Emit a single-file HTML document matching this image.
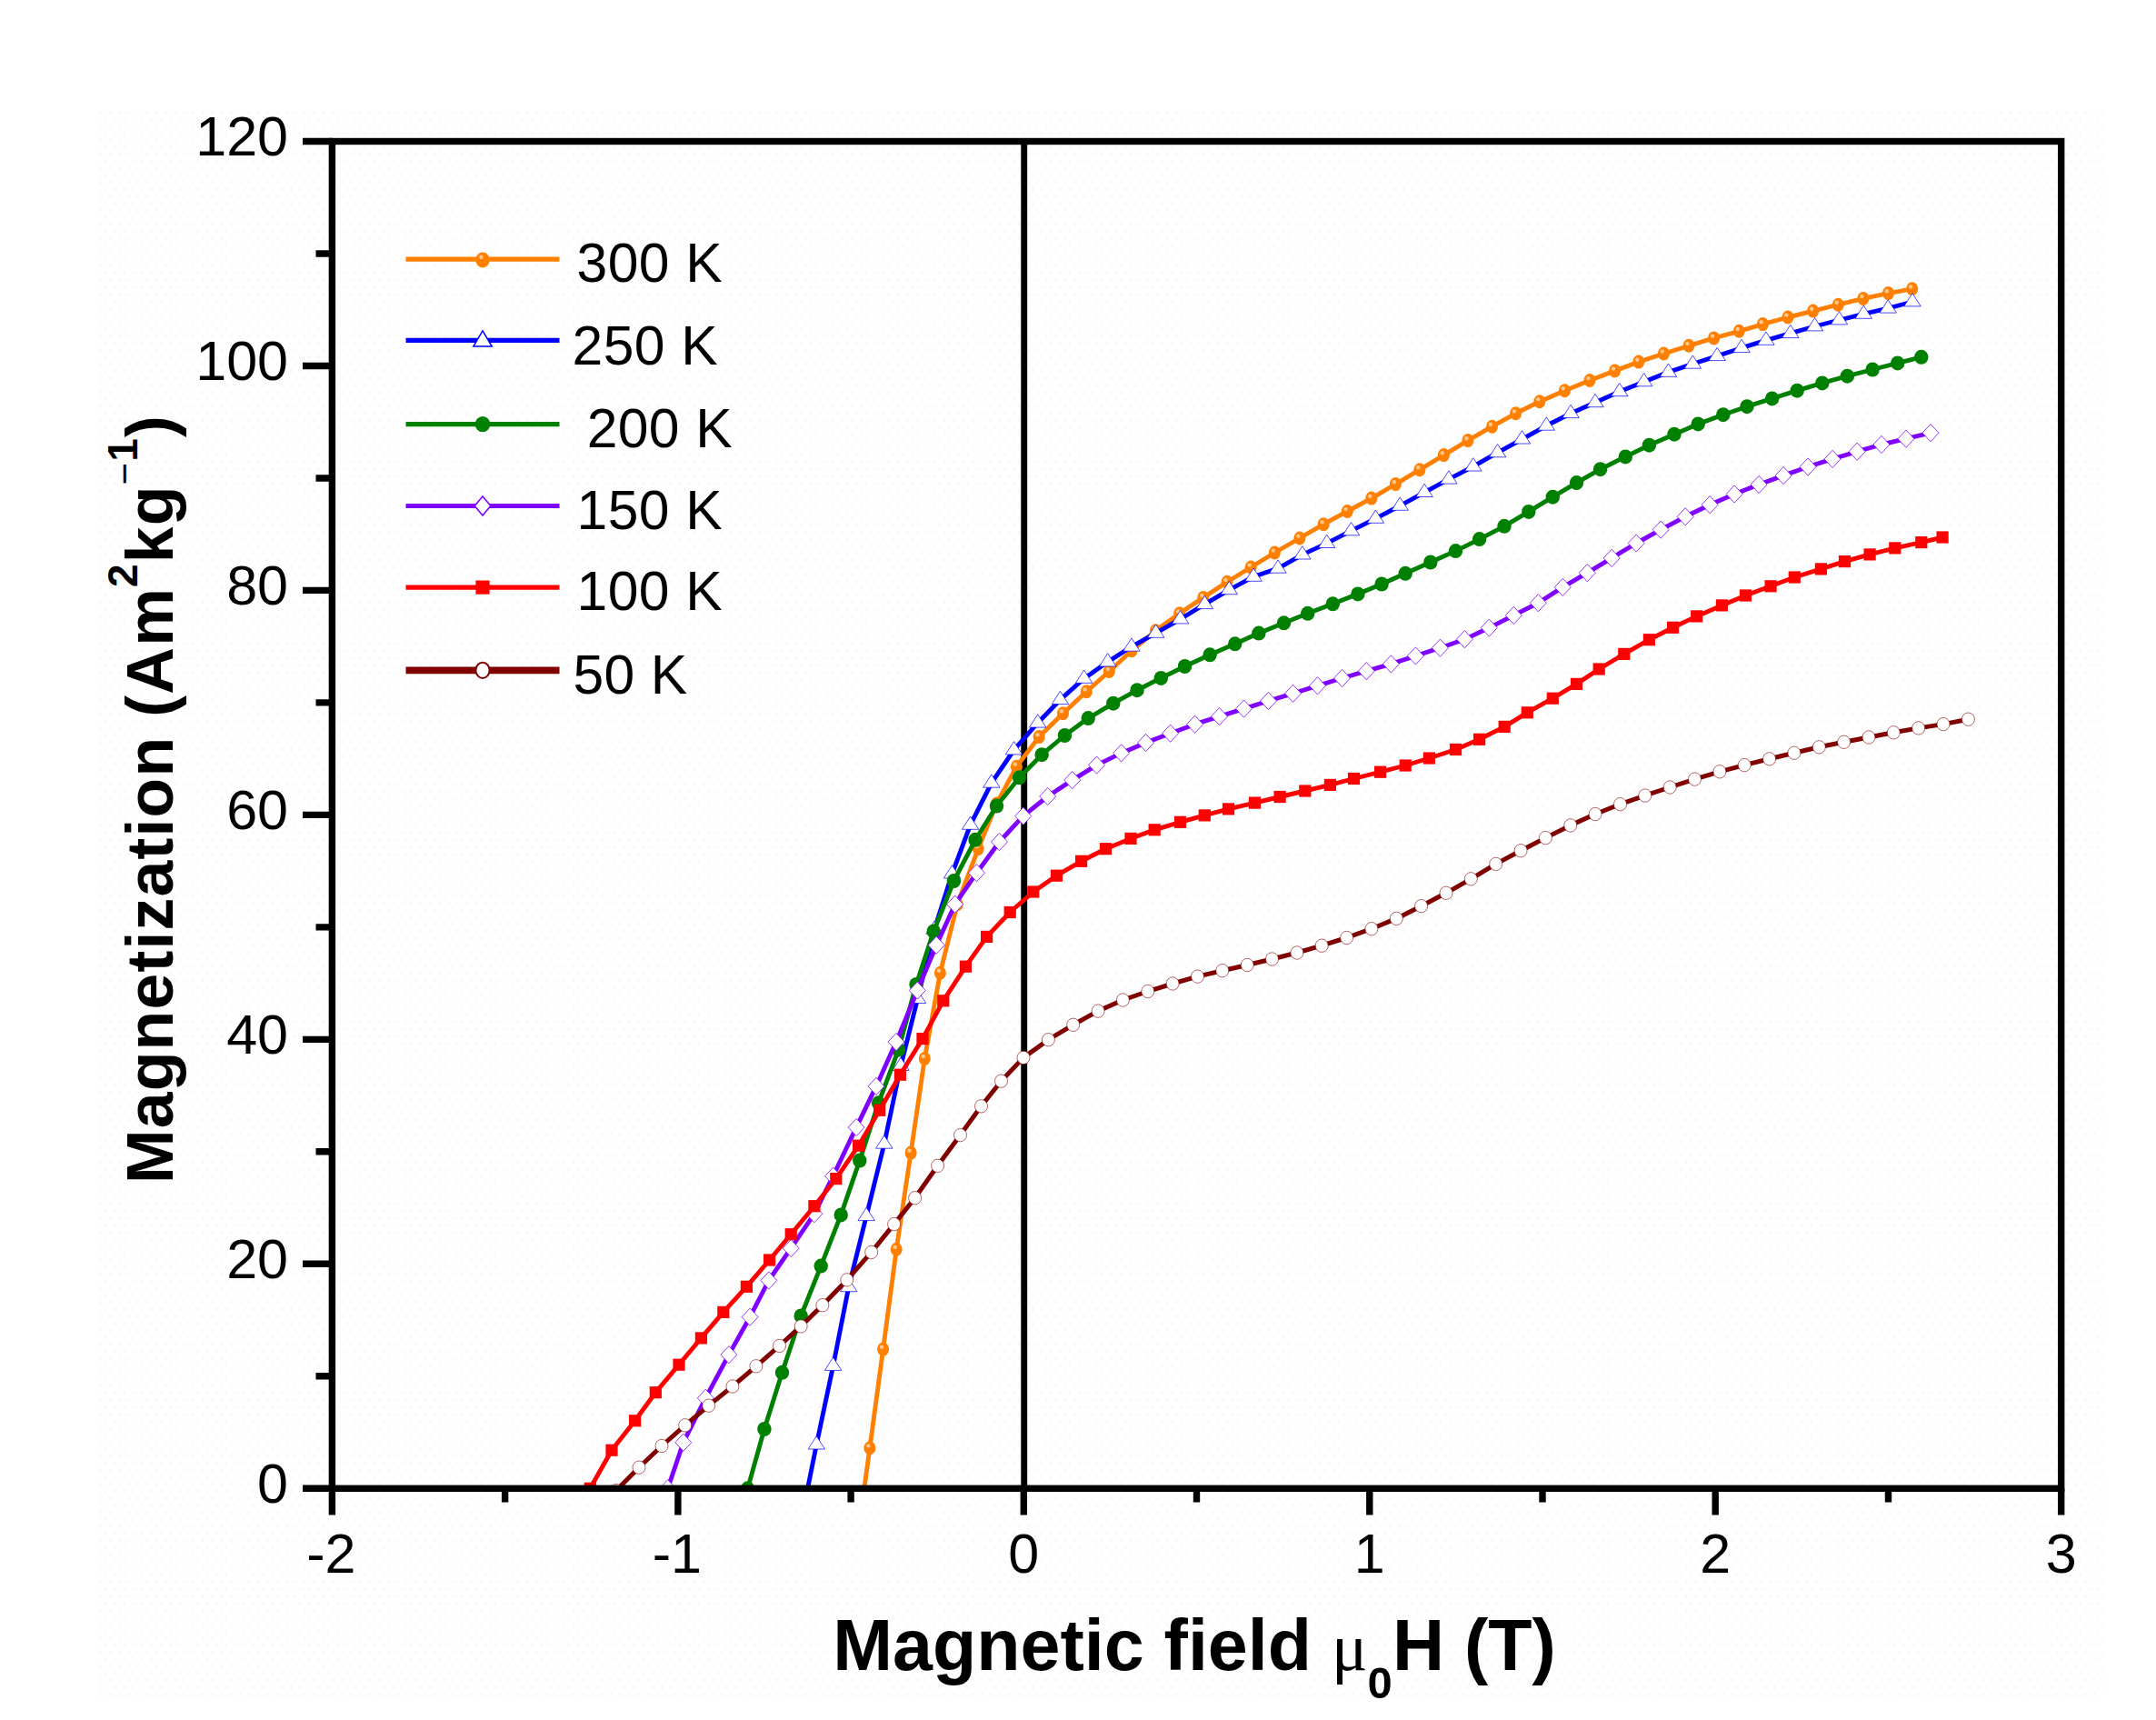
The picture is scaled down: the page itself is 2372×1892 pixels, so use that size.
<!DOCTYPE html>
<html lang="en"><head><meta charset="utf-8"><title>Magnetization vs magnetic field</title>
<style>html,body{margin:0;padding:0;background:#fff}body{width:2372px;height:1892px;overflow:hidden}svg{display:block}</style>
</head><body>
<svg width="2372" height="1892" viewBox="0 0 2372 1892">
<rect x="0" y="0" width="2372" height="1892" fill="#ffffff"/>
<defs><pattern id="dots" x="108" y="120" width="10.2" height="15.4" patternUnits="userSpaceOnUse"><circle cx="3" cy="3.5" r="1.3" fill="#faf4f4"/><circle cx="8.1" cy="11.2" r="1.3" fill="#faf4f4"/></pattern></defs>
<rect x="108" y="120" width="2206" height="1749" fill="#fefefe"/>
<rect x="108" y="120" width="2206" height="1749" fill="url(#dots)"/>
<line x1="1126.7" y1="155.5" x2="1126.7" y2="1637.3" stroke="#000" stroke-width="6.9"/>
<defs><clipPath id="cp"><rect x="365.4" y="155.5" width="1902.3" height="1481.8"/></clipPath></defs>
<g clip-path="url(#cp)">
<g>
<path d="M942.2 1700 L956.9 1592.8 L971.6 1484.1 L986.2 1374.3 L1002.1 1268.1 L1017.3 1164.4 L1034.4 1070.2 L1053.2 994.7 L1076.2 933.6 L1096.5 884 L1118.4 843.2 L1143.2 810.6 L1169.5 784.7 L1195.3 760.8 L1220.4 738.5 L1245 715.8 L1271.5 693.8 L1297.7 674.8 L1323.8 657.4 L1350 640.3 L1376.2 624 L1402.3 608 L1429.9 592 L1456.1 576.7 L1482.3 562.5 L1508.8 548.1 L1535.4 532.6 L1561.9 516.7 L1588.4 500.6 L1615 484.6 L1641.5 469.2 L1667.6 454.8 L1693.8 441.7 L1721.4 429.7 L1749 418.5 L1776.6 407.9 L1802.8 398.1 L1830.4 389 L1858 380.3 L1885.6 371.9 L1913.3 364.3 L1939.4 356.6 L1967 349 L1994.7 342.1 L2022.3 335.2 L2049.9 328.4 L2077.5 322.6 L2103.7 317.8" fill="none" stroke="#ff8000" stroke-width="4.9" stroke-linejoin="round"/>
<ellipse cx="956.9" cy="1592.8" rx="6.5" ry="7.5" fill="#ff8000"/><circle cx="955.3" cy="1590.4" r="2.2" fill="#ffc890"/>
<ellipse cx="971.6" cy="1484.1" rx="6.5" ry="7.5" fill="#ff8000"/><circle cx="970" cy="1481.7" r="2.2" fill="#ffc890"/>
<ellipse cx="986.2" cy="1374.3" rx="6.5" ry="7.5" fill="#ff8000"/><circle cx="984.6" cy="1371.9" r="2.2" fill="#ffc890"/>
<ellipse cx="1002.1" cy="1268.1" rx="6.5" ry="7.5" fill="#ff8000"/><circle cx="1000.5" cy="1265.7" r="2.2" fill="#ffc890"/>
<ellipse cx="1017.3" cy="1164.4" rx="6.5" ry="7.5" fill="#ff8000"/><circle cx="1015.7" cy="1162" r="2.2" fill="#ffc890"/>
<ellipse cx="1034.4" cy="1070.2" rx="6.5" ry="7.5" fill="#ff8000"/><circle cx="1032.8" cy="1067.8" r="2.2" fill="#ffc890"/>
<ellipse cx="1053.2" cy="994.7" rx="6.5" ry="7.5" fill="#ff8000"/><circle cx="1051.6" cy="992.3" r="2.2" fill="#ffc890"/>
<ellipse cx="1076.2" cy="933.6" rx="6.5" ry="7.5" fill="#ff8000"/><circle cx="1074.6" cy="931.2" r="2.2" fill="#ffc890"/>
<ellipse cx="1096.5" cy="884" rx="6.5" ry="7.5" fill="#ff8000"/><circle cx="1094.9" cy="881.6" r="2.2" fill="#ffc890"/>
<ellipse cx="1118.4" cy="843.2" rx="6.5" ry="7.5" fill="#ff8000"/><circle cx="1116.8" cy="840.8" r="2.2" fill="#ffc890"/>
<ellipse cx="1143.2" cy="810.6" rx="6.5" ry="7.5" fill="#ff8000"/><circle cx="1141.6" cy="808.2" r="2.2" fill="#ffc890"/>
<ellipse cx="1169.5" cy="784.7" rx="6.5" ry="7.5" fill="#ff8000"/><circle cx="1167.9" cy="782.3" r="2.2" fill="#ffc890"/>
<ellipse cx="1195.3" cy="760.8" rx="6.5" ry="7.5" fill="#ff8000"/><circle cx="1193.7" cy="758.4" r="2.2" fill="#ffc890"/>
<ellipse cx="1220.4" cy="738.5" rx="6.5" ry="7.5" fill="#ff8000"/><circle cx="1218.8" cy="736.1" r="2.2" fill="#ffc890"/>
<ellipse cx="1245" cy="715.8" rx="6.5" ry="7.5" fill="#ff8000"/><circle cx="1243.4" cy="713.4" r="2.2" fill="#ffc890"/>
<ellipse cx="1271.5" cy="693.8" rx="6.5" ry="7.5" fill="#ff8000"/><circle cx="1269.9" cy="691.4" r="2.2" fill="#ffc890"/>
<ellipse cx="1297.7" cy="674.8" rx="6.5" ry="7.5" fill="#ff8000"/><circle cx="1296.1" cy="672.4" r="2.2" fill="#ffc890"/>
<ellipse cx="1323.8" cy="657.4" rx="6.5" ry="7.5" fill="#ff8000"/><circle cx="1322.2" cy="655" r="2.2" fill="#ffc890"/>
<ellipse cx="1350" cy="640.3" rx="6.5" ry="7.5" fill="#ff8000"/><circle cx="1348.4" cy="637.9" r="2.2" fill="#ffc890"/>
<ellipse cx="1376.2" cy="624" rx="6.5" ry="7.5" fill="#ff8000"/><circle cx="1374.6" cy="621.6" r="2.2" fill="#ffc890"/>
<ellipse cx="1402.3" cy="608" rx="6.5" ry="7.5" fill="#ff8000"/><circle cx="1400.7" cy="605.6" r="2.2" fill="#ffc890"/>
<ellipse cx="1429.9" cy="592" rx="6.5" ry="7.5" fill="#ff8000"/><circle cx="1428.3" cy="589.6" r="2.2" fill="#ffc890"/>
<ellipse cx="1456.1" cy="576.7" rx="6.5" ry="7.5" fill="#ff8000"/><circle cx="1454.5" cy="574.3" r="2.2" fill="#ffc890"/>
<ellipse cx="1482.3" cy="562.5" rx="6.5" ry="7.5" fill="#ff8000"/><circle cx="1480.7" cy="560.1" r="2.2" fill="#ffc890"/>
<ellipse cx="1508.8" cy="548.1" rx="6.5" ry="7.5" fill="#ff8000"/><circle cx="1507.2" cy="545.7" r="2.2" fill="#ffc890"/>
<ellipse cx="1535.4" cy="532.6" rx="6.5" ry="7.5" fill="#ff8000"/><circle cx="1533.8" cy="530.2" r="2.2" fill="#ffc890"/>
<ellipse cx="1561.9" cy="516.7" rx="6.5" ry="7.5" fill="#ff8000"/><circle cx="1560.3" cy="514.3" r="2.2" fill="#ffc890"/>
<ellipse cx="1588.4" cy="500.6" rx="6.5" ry="7.5" fill="#ff8000"/><circle cx="1586.8" cy="498.2" r="2.2" fill="#ffc890"/>
<ellipse cx="1615" cy="484.6" rx="6.5" ry="7.5" fill="#ff8000"/><circle cx="1613.4" cy="482.2" r="2.2" fill="#ffc890"/>
<ellipse cx="1641.5" cy="469.2" rx="6.5" ry="7.5" fill="#ff8000"/><circle cx="1639.9" cy="466.8" r="2.2" fill="#ffc890"/>
<ellipse cx="1667.6" cy="454.8" rx="6.5" ry="7.5" fill="#ff8000"/><circle cx="1666" cy="452.4" r="2.2" fill="#ffc890"/>
<ellipse cx="1693.8" cy="441.7" rx="6.5" ry="7.5" fill="#ff8000"/><circle cx="1692.2" cy="439.3" r="2.2" fill="#ffc890"/>
<ellipse cx="1721.4" cy="429.7" rx="6.5" ry="7.5" fill="#ff8000"/><circle cx="1719.8" cy="427.3" r="2.2" fill="#ffc890"/>
<ellipse cx="1749" cy="418.5" rx="6.5" ry="7.5" fill="#ff8000"/><circle cx="1747.4" cy="416.1" r="2.2" fill="#ffc890"/>
<ellipse cx="1776.6" cy="407.9" rx="6.5" ry="7.5" fill="#ff8000"/><circle cx="1775" cy="405.5" r="2.2" fill="#ffc890"/>
<ellipse cx="1802.8" cy="398.1" rx="6.5" ry="7.5" fill="#ff8000"/><circle cx="1801.2" cy="395.7" r="2.2" fill="#ffc890"/>
<ellipse cx="1830.4" cy="389" rx="6.5" ry="7.5" fill="#ff8000"/><circle cx="1828.8" cy="386.6" r="2.2" fill="#ffc890"/>
<ellipse cx="1858" cy="380.3" rx="6.5" ry="7.5" fill="#ff8000"/><circle cx="1856.4" cy="377.9" r="2.2" fill="#ffc890"/>
<ellipse cx="1885.6" cy="371.9" rx="6.5" ry="7.5" fill="#ff8000"/><circle cx="1884" cy="369.6" r="2.2" fill="#ffc890"/>
<ellipse cx="1913.3" cy="364.3" rx="6.5" ry="7.5" fill="#ff8000"/><circle cx="1911.7" cy="361.9" r="2.2" fill="#ffc890"/>
<ellipse cx="1939.4" cy="356.6" rx="6.5" ry="7.5" fill="#ff8000"/><circle cx="1937.8" cy="354.2" r="2.2" fill="#ffc890"/>
<ellipse cx="1967" cy="349" rx="6.5" ry="7.5" fill="#ff8000"/><circle cx="1965.4" cy="346.6" r="2.2" fill="#ffc890"/>
<ellipse cx="1994.7" cy="342.1" rx="6.5" ry="7.5" fill="#ff8000"/><circle cx="1993.1" cy="339.7" r="2.2" fill="#ffc890"/>
<ellipse cx="2022.3" cy="335.2" rx="6.5" ry="7.5" fill="#ff8000"/><circle cx="2020.7" cy="332.8" r="2.2" fill="#ffc890"/>
<ellipse cx="2049.9" cy="328.4" rx="6.5" ry="7.5" fill="#ff8000"/><circle cx="2048.3" cy="326" r="2.2" fill="#ffc890"/>
<ellipse cx="2077.5" cy="322.6" rx="6.5" ry="7.5" fill="#ff8000"/><circle cx="2075.9" cy="320.2" r="2.2" fill="#ffc890"/>
<ellipse cx="2103.7" cy="317.8" rx="6.5" ry="7.5" fill="#ff8000"/><circle cx="2102.1" cy="315.4" r="2.2" fill="#ffc890"/>
</g>
<g>
<path d="M888.6 1637.3 L898.3 1589.1 L916.6 1502.5 L933.7 1415.8 L953.2 1337.7 L972.8 1258.3 L991 1172.6 L1009.5 1098.6 L1028 1022.4 L1047.5 961.1 L1067.6 907.4 L1090.8 861.3 L1115.5 825 L1141.7 795.2 L1166.4 769.7 L1192.6 746.4 L1218.7 728.1 L1244.9 711.3 L1271.7 696.4 L1298.6 681 L1325.4 664.7 L1352.3 648.8 L1379.1 634.4 L1406 625.3 L1432.8 610.1 L1459.7 597.6 L1486.5 583.9 L1513.4 570.4 L1540.2 556.4 L1567.1 541.6 L1593.9 527.2 L1620.8 513.1 L1647.6 497.9 L1674.5 483.1 L1701.3 468.3 L1728.1 454.7 L1755 442.8 L1781.8 430.8 L1808.7 419.9 L1835.5 409.4 L1862.4 400.3 L1889.2 391.7 L1916.1 382.7 L1942.9 374.4 L1969.8 366.7 L1996.6 359 L2023.5 352 L2050.3 345.4 L2077.2 339.2 L2104 332" fill="none" stroke="#0000ff" stroke-width="4.9" stroke-linejoin="round"/>
<path d="M898.3 1579.7 L907.5 1594 L889.1 1594 Z" fill="#fff" stroke="#0000ff" stroke-width="0.7"/>
<path d="M916.6 1493.1 L925.8 1507.4 L907.4 1507.4 Z" fill="#fff" stroke="#0000ff" stroke-width="0.7"/>
<path d="M933.7 1406.4 L942.9 1420.7 L924.5 1420.7 Z" fill="#fff" stroke="#0000ff" stroke-width="0.7"/>
<path d="M953.2 1328.3 L962.4 1342.6 L944 1342.6 Z" fill="#fff" stroke="#0000ff" stroke-width="0.7"/>
<path d="M972.8 1248.9 L982 1263.2 L963.6 1263.2 Z" fill="#fff" stroke="#0000ff" stroke-width="0.7"/>
<path d="M991 1163.2 L1000.2 1177.5 L981.8 1177.5 Z" fill="#fff" stroke="#0000ff" stroke-width="0.7"/>
<path d="M1009.5 1089.2 L1018.7 1103.5 L1000.3 1103.5 Z" fill="#fff" stroke="#0000ff" stroke-width="0.7"/>
<path d="M1028 1013 L1037.2 1027.3 L1018.8 1027.3 Z" fill="#fff" stroke="#0000ff" stroke-width="0.7"/>
<path d="M1047.5 951.7 L1056.7 966 L1038.3 966 Z" fill="#fff" stroke="#0000ff" stroke-width="0.7"/>
<path d="M1067.6 898 L1076.8 912.3 L1058.4 912.3 Z" fill="#fff" stroke="#0000ff" stroke-width="0.7"/>
<path d="M1090.8 851.9 L1100 866.2 L1081.6 866.2 Z" fill="#fff" stroke="#0000ff" stroke-width="0.7"/>
<path d="M1115.5 815.6 L1124.7 829.9 L1106.3 829.9 Z" fill="#fff" stroke="#0000ff" stroke-width="0.7"/>
<path d="M1141.7 785.8 L1150.9 800.1 L1132.5 800.1 Z" fill="#fff" stroke="#0000ff" stroke-width="0.7"/>
<path d="M1166.4 760.3 L1175.6 774.6 L1157.2 774.6 Z" fill="#fff" stroke="#0000ff" stroke-width="0.7"/>
<path d="M1192.6 737 L1201.8 751.3 L1183.4 751.3 Z" fill="#fff" stroke="#0000ff" stroke-width="0.7"/>
<path d="M1218.7 718.7 L1227.9 733 L1209.5 733 Z" fill="#fff" stroke="#0000ff" stroke-width="0.7"/>
<path d="M1244.9 701.9 L1254.1 716.2 L1235.7 716.2 Z" fill="#fff" stroke="#0000ff" stroke-width="0.7"/>
<path d="M1271.7 687 L1280.9 701.3 L1262.5 701.3 Z" fill="#fff" stroke="#0000ff" stroke-width="0.7"/>
<path d="M1298.6 671.6 L1307.8 685.9 L1289.4 685.9 Z" fill="#fff" stroke="#0000ff" stroke-width="0.7"/>
<path d="M1325.4 655.3 L1334.6 669.6 L1316.2 669.6 Z" fill="#fff" stroke="#0000ff" stroke-width="0.7"/>
<path d="M1352.3 639.4 L1361.5 653.7 L1343.1 653.7 Z" fill="#fff" stroke="#0000ff" stroke-width="0.7"/>
<path d="M1379.1 625 L1388.3 639.3 L1369.9 639.3 Z" fill="#fff" stroke="#0000ff" stroke-width="0.7"/>
<path d="M1406 615.9 L1415.2 630.2 L1396.8 630.2 Z" fill="#fff" stroke="#0000ff" stroke-width="0.7"/>
<path d="M1432.8 600.7 L1442 615 L1423.6 615 Z" fill="#fff" stroke="#0000ff" stroke-width="0.7"/>
<path d="M1459.7 588.2 L1468.9 602.5 L1450.5 602.5 Z" fill="#fff" stroke="#0000ff" stroke-width="0.7"/>
<path d="M1486.5 574.5 L1495.7 588.8 L1477.3 588.8 Z" fill="#fff" stroke="#0000ff" stroke-width="0.7"/>
<path d="M1513.4 561 L1522.6 575.3 L1504.2 575.3 Z" fill="#fff" stroke="#0000ff" stroke-width="0.7"/>
<path d="M1540.2 547 L1549.4 561.3 L1531 561.3 Z" fill="#fff" stroke="#0000ff" stroke-width="0.7"/>
<path d="M1567.1 532.2 L1576.3 546.5 L1557.9 546.5 Z" fill="#fff" stroke="#0000ff" stroke-width="0.7"/>
<path d="M1593.9 517.8 L1603.1 532.1 L1584.7 532.1 Z" fill="#fff" stroke="#0000ff" stroke-width="0.7"/>
<path d="M1620.8 503.7 L1630 518 L1611.6 518 Z" fill="#fff" stroke="#0000ff" stroke-width="0.7"/>
<path d="M1647.6 488.5 L1656.8 502.8 L1638.4 502.8 Z" fill="#fff" stroke="#0000ff" stroke-width="0.7"/>
<path d="M1674.5 473.7 L1683.7 488 L1665.2 488 Z" fill="#fff" stroke="#0000ff" stroke-width="0.7"/>
<path d="M1701.3 458.9 L1710.5 473.2 L1692.1 473.2 Z" fill="#fff" stroke="#0000ff" stroke-width="0.7"/>
<path d="M1728.1 445.3 L1737.3 459.6 L1718.9 459.6 Z" fill="#fff" stroke="#0000ff" stroke-width="0.7"/>
<path d="M1755 433.4 L1764.2 447.7 L1745.8 447.7 Z" fill="#fff" stroke="#0000ff" stroke-width="0.7"/>
<path d="M1781.8 421.4 L1791 435.7 L1772.6 435.7 Z" fill="#fff" stroke="#0000ff" stroke-width="0.7"/>
<path d="M1808.7 410.5 L1817.9 424.8 L1799.5 424.8 Z" fill="#fff" stroke="#0000ff" stroke-width="0.7"/>
<path d="M1835.5 400 L1844.7 414.3 L1826.3 414.3 Z" fill="#fff" stroke="#0000ff" stroke-width="0.7"/>
<path d="M1862.4 390.9 L1871.6 405.2 L1853.2 405.2 Z" fill="#fff" stroke="#0000ff" stroke-width="0.7"/>
<path d="M1889.2 382.3 L1898.4 396.6 L1880 396.6 Z" fill="#fff" stroke="#0000ff" stroke-width="0.7"/>
<path d="M1916.1 373.3 L1925.3 387.6 L1906.9 387.6 Z" fill="#fff" stroke="#0000ff" stroke-width="0.7"/>
<path d="M1942.9 365 L1952.1 379.3 L1933.7 379.3 Z" fill="#fff" stroke="#0000ff" stroke-width="0.7"/>
<path d="M1969.8 357.3 L1979 371.6 L1960.6 371.6 Z" fill="#fff" stroke="#0000ff" stroke-width="0.7"/>
<path d="M1996.6 349.6 L2005.8 363.9 L1987.4 363.9 Z" fill="#fff" stroke="#0000ff" stroke-width="0.7"/>
<path d="M2023.5 342.6 L2032.7 356.9 L2014.3 356.9 Z" fill="#fff" stroke="#0000ff" stroke-width="0.7"/>
<path d="M2050.3 336 L2059.5 350.3 L2041.1 350.3 Z" fill="#fff" stroke="#0000ff" stroke-width="0.7"/>
<path d="M2077.2 329.8 L2086.4 344.1 L2068 344.1 Z" fill="#fff" stroke="#0000ff" stroke-width="0.7"/>
<path d="M2104 322.6 L2113.2 336.9 L2094.8 336.9 Z" fill="#fff" stroke="#0000ff" stroke-width="0.7"/>
</g>
<g>
<path d="M822.6 1637.3 L840.9 1572 L860.5 1509.8 L881.2 1447.5 L903.2 1392.6 L925.2 1336.4 L945.8 1276.6 L966.5 1213.3 L988.5 1154.7 L1008 1083 L1027.2 1024.5 L1049.4 969 L1073 923.8 L1096.5 886.5 L1121.5 855.3 L1146.2 830.2 L1171.4 809 L1197.2 790.1 L1224.8 773.7 L1251 759.2 L1277.3 745.9 L1303.5 733 L1331.1 720.3 L1358.7 708.3 L1384.9 696.6 L1412.5 685.3 L1438.7 674.8 L1466.3 664.3 L1493.9 653.4 L1520.1 642.5 L1546.2 630.8 L1573.8 618.5 L1601.5 606.1 L1627.6 593.1 L1655 578.8 L1681.8 562.9 L1708.3 546.7 L1734.5 531.1 L1760.6 516.2 L1788.3 502.4 L1814.4 489.7 L1842 477.7 L1868.2 466.4 L1895.8 456.2 L1922 447.2 L1949.6 438.4 L1977.2 429.7 L2004.8 421.4 L2032.4 413.7 L2060.1 406.5 L2087.7 399.4 L2113.8 392.8" fill="none" stroke="#008000" stroke-width="4.9" stroke-linejoin="round"/>
<ellipse cx="822.6" cy="1637.3" rx="7.7" ry="8.0" fill="#008000"/>
<ellipse cx="840.9" cy="1572" rx="7.7" ry="8.0" fill="#008000"/>
<ellipse cx="860.5" cy="1509.8" rx="7.7" ry="8.0" fill="#008000"/>
<ellipse cx="881.2" cy="1447.5" rx="7.7" ry="8.0" fill="#008000"/>
<ellipse cx="903.2" cy="1392.6" rx="7.7" ry="8.0" fill="#008000"/>
<ellipse cx="925.2" cy="1336.4" rx="7.7" ry="8.0" fill="#008000"/>
<ellipse cx="945.8" cy="1276.6" rx="7.7" ry="8.0" fill="#008000"/>
<ellipse cx="966.5" cy="1213.3" rx="7.7" ry="8.0" fill="#008000"/>
<ellipse cx="988.5" cy="1154.7" rx="7.7" ry="8.0" fill="#008000"/>
<ellipse cx="1008" cy="1083" rx="7.7" ry="8.0" fill="#008000"/>
<ellipse cx="1027.2" cy="1024.5" rx="7.7" ry="8.0" fill="#008000"/>
<ellipse cx="1049.4" cy="969" rx="7.7" ry="8.0" fill="#008000"/>
<ellipse cx="1073" cy="923.8" rx="7.7" ry="8.0" fill="#008000"/>
<ellipse cx="1096.5" cy="886.5" rx="7.7" ry="8.0" fill="#008000"/>
<ellipse cx="1121.5" cy="855.3" rx="7.7" ry="8.0" fill="#008000"/>
<ellipse cx="1146.2" cy="830.2" rx="7.7" ry="8.0" fill="#008000"/>
<ellipse cx="1171.4" cy="809" rx="7.7" ry="8.0" fill="#008000"/>
<ellipse cx="1197.2" cy="790.1" rx="7.7" ry="8.0" fill="#008000"/>
<ellipse cx="1224.8" cy="773.7" rx="7.7" ry="8.0" fill="#008000"/>
<ellipse cx="1251" cy="759.2" rx="7.7" ry="8.0" fill="#008000"/>
<ellipse cx="1277.3" cy="745.9" rx="7.7" ry="8.0" fill="#008000"/>
<ellipse cx="1303.5" cy="733" rx="7.7" ry="8.0" fill="#008000"/>
<ellipse cx="1331.1" cy="720.3" rx="7.7" ry="8.0" fill="#008000"/>
<ellipse cx="1358.7" cy="708.3" rx="7.7" ry="8.0" fill="#008000"/>
<ellipse cx="1384.9" cy="696.6" rx="7.7" ry="8.0" fill="#008000"/>
<ellipse cx="1412.5" cy="685.3" rx="7.7" ry="8.0" fill="#008000"/>
<ellipse cx="1438.7" cy="674.8" rx="7.7" ry="8.0" fill="#008000"/>
<ellipse cx="1466.3" cy="664.3" rx="7.7" ry="8.0" fill="#008000"/>
<ellipse cx="1493.9" cy="653.4" rx="7.7" ry="8.0" fill="#008000"/>
<ellipse cx="1520.1" cy="642.5" rx="7.7" ry="8.0" fill="#008000"/>
<ellipse cx="1546.2" cy="630.8" rx="7.7" ry="8.0" fill="#008000"/>
<ellipse cx="1573.8" cy="618.5" rx="7.7" ry="8.0" fill="#008000"/>
<ellipse cx="1601.5" cy="606.1" rx="7.7" ry="8.0" fill="#008000"/>
<ellipse cx="1627.6" cy="593.1" rx="7.7" ry="8.0" fill="#008000"/>
<ellipse cx="1655" cy="578.8" rx="7.7" ry="8.0" fill="#008000"/>
<ellipse cx="1681.8" cy="562.9" rx="7.7" ry="8.0" fill="#008000"/>
<ellipse cx="1708.3" cy="546.7" rx="7.7" ry="8.0" fill="#008000"/>
<ellipse cx="1734.5" cy="531.1" rx="7.7" ry="8.0" fill="#008000"/>
<ellipse cx="1760.6" cy="516.2" rx="7.7" ry="8.0" fill="#008000"/>
<ellipse cx="1788.3" cy="502.4" rx="7.7" ry="8.0" fill="#008000"/>
<ellipse cx="1814.4" cy="489.7" rx="7.7" ry="8.0" fill="#008000"/>
<ellipse cx="1842" cy="477.7" rx="7.7" ry="8.0" fill="#008000"/>
<ellipse cx="1868.2" cy="466.4" rx="7.7" ry="8.0" fill="#008000"/>
<ellipse cx="1895.8" cy="456.2" rx="7.7" ry="8.0" fill="#008000"/>
<ellipse cx="1922" cy="447.2" rx="7.7" ry="8.0" fill="#008000"/>
<ellipse cx="1949.6" cy="438.4" rx="7.7" ry="8.0" fill="#008000"/>
<ellipse cx="1977.2" cy="429.7" rx="7.7" ry="8.0" fill="#008000"/>
<ellipse cx="2004.8" cy="421.4" rx="7.7" ry="8.0" fill="#008000"/>
<ellipse cx="2032.4" cy="413.7" rx="7.7" ry="8.0" fill="#008000"/>
<ellipse cx="2060.1" cy="406.5" rx="7.7" ry="8.0" fill="#008000"/>
<ellipse cx="2087.7" cy="399.4" rx="7.7" ry="8.0" fill="#008000"/>
<ellipse cx="2113.8" cy="392.8" rx="7.7" ry="8.0" fill="#008000"/>
</g>
<g>
<path d="M734.7 1637.3 L751.8 1586.7 L776.3 1537.8 L801.9 1490.2 L825.1 1448.7 L845.8 1408.5 L870.2 1373.1 L895.9 1335.2 L916.6 1293.7 L942.1 1240.1 L964 1194.9 L986 1146.1 L1009.3 1089.5 L1030.2 1039.7 L1050.7 994.7 L1074.5 960.2 L1099.5 926 L1125.7 897.7 L1152.7 876 L1179.7 858.1 L1206.6 841.6 L1233.6 828.4 L1260.6 817 L1287.6 806.7 L1314.6 796.7 L1341.5 788.1 L1368.5 779.6 L1395.5 771 L1422.5 762.8 L1449.5 754.3 L1476.5 746 L1503.4 738.2 L1530.4 730.4 L1557.4 721.5 L1584.4 712.7 L1611.4 703.2 L1638.3 690.6 L1665.3 676.9 L1692.3 663.2 L1719.3 645.9 L1746.3 630.2 L1773.2 613.9 L1800.2 597.5 L1827.2 582.6 L1854.2 568.3 L1881.2 555.2 L1908.2 543.5 L1935.1 533 L1962.1 523.1 L1989.1 513.5 L2016.1 504.9 L2043.1 496.7 L2070 489 L2097 482.7 L2124 476.2" fill="none" stroke="#8000ff" stroke-width="4.9" stroke-linejoin="round"/>
<path d="M734.7 1627.7 L743.7 1637.3 L734.7 1646.9 L725.7 1637.3 Z" fill="#fff" stroke="#8000ff" stroke-width="0.8"/>
<path d="M751.8 1577.1 L760.8 1586.7 L751.8 1596.3 L742.8 1586.7 Z" fill="#fff" stroke="#8000ff" stroke-width="0.8"/>
<path d="M776.3 1528.2 L785.3 1537.8 L776.3 1547.4 L767.3 1537.8 Z" fill="#fff" stroke="#8000ff" stroke-width="0.8"/>
<path d="M801.9 1480.6 L810.9 1490.2 L801.9 1499.8 L792.9 1490.2 Z" fill="#fff" stroke="#8000ff" stroke-width="0.8"/>
<path d="M825.1 1439.1 L834.1 1448.7 L825.1 1458.3 L816.1 1448.7 Z" fill="#fff" stroke="#8000ff" stroke-width="0.8"/>
<path d="M845.8 1398.9 L854.8 1408.5 L845.8 1418.1 L836.8 1408.5 Z" fill="#fff" stroke="#8000ff" stroke-width="0.8"/>
<path d="M870.2 1363.5 L879.2 1373.1 L870.2 1382.7 L861.2 1373.1 Z" fill="#fff" stroke="#8000ff" stroke-width="0.8"/>
<path d="M895.9 1325.6 L904.9 1335.2 L895.9 1344.8 L886.9 1335.2 Z" fill="#fff" stroke="#8000ff" stroke-width="0.8"/>
<path d="M916.6 1284.1 L925.6 1293.7 L916.6 1303.3 L907.6 1293.7 Z" fill="#fff" stroke="#8000ff" stroke-width="0.8"/>
<path d="M942.1 1230.5 L951.1 1240.1 L942.1 1249.7 L933.1 1240.1 Z" fill="#fff" stroke="#8000ff" stroke-width="0.8"/>
<path d="M964 1185.3 L973 1194.9 L964 1204.5 L955 1194.9 Z" fill="#fff" stroke="#8000ff" stroke-width="0.8"/>
<path d="M986 1136.5 L995 1146.1 L986 1155.7 L977 1146.1 Z" fill="#fff" stroke="#8000ff" stroke-width="0.8"/>
<path d="M1009.3 1079.9 L1018.3 1089.5 L1009.3 1099.1 L1000.3 1089.5 Z" fill="#fff" stroke="#8000ff" stroke-width="0.8"/>
<path d="M1030.2 1030.1 L1039.2 1039.7 L1030.2 1049.3 L1021.2 1039.7 Z" fill="#fff" stroke="#8000ff" stroke-width="0.8"/>
<path d="M1050.7 985.1 L1059.7 994.7 L1050.7 1004.3 L1041.7 994.7 Z" fill="#fff" stroke="#8000ff" stroke-width="0.8"/>
<path d="M1074.5 950.6 L1083.5 960.2 L1074.5 969.8 L1065.5 960.2 Z" fill="#fff" stroke="#8000ff" stroke-width="0.8"/>
<path d="M1099.5 916.4 L1108.5 926 L1099.5 935.6 L1090.5 926 Z" fill="#fff" stroke="#8000ff" stroke-width="0.8"/>
<path d="M1125.7 888.1 L1134.7 897.7 L1125.7 907.3 L1116.7 897.7 Z" fill="#fff" stroke="#8000ff" stroke-width="0.8"/>
<path d="M1152.7 866.4 L1161.7 876 L1152.7 885.6 L1143.7 876 Z" fill="#fff" stroke="#8000ff" stroke-width="0.8"/>
<path d="M1179.7 848.5 L1188.7 858.1 L1179.7 867.7 L1170.7 858.1 Z" fill="#fff" stroke="#8000ff" stroke-width="0.8"/>
<path d="M1206.6 832 L1215.6 841.6 L1206.6 851.2 L1197.6 841.6 Z" fill="#fff" stroke="#8000ff" stroke-width="0.8"/>
<path d="M1233.6 818.8 L1242.6 828.4 L1233.6 838 L1224.6 828.4 Z" fill="#fff" stroke="#8000ff" stroke-width="0.8"/>
<path d="M1260.6 807.4 L1269.6 817 L1260.6 826.6 L1251.6 817 Z" fill="#fff" stroke="#8000ff" stroke-width="0.8"/>
<path d="M1287.6 797.1 L1296.6 806.7 L1287.6 816.3 L1278.6 806.7 Z" fill="#fff" stroke="#8000ff" stroke-width="0.8"/>
<path d="M1314.6 787.1 L1323.6 796.7 L1314.6 806.3 L1305.6 796.7 Z" fill="#fff" stroke="#8000ff" stroke-width="0.8"/>
<path d="M1341.5 778.5 L1350.5 788.1 L1341.5 797.7 L1332.5 788.1 Z" fill="#fff" stroke="#8000ff" stroke-width="0.8"/>
<path d="M1368.5 770 L1377.5 779.6 L1368.5 789.2 L1359.5 779.6 Z" fill="#fff" stroke="#8000ff" stroke-width="0.8"/>
<path d="M1395.5 761.4 L1404.5 771 L1395.5 780.6 L1386.5 771 Z" fill="#fff" stroke="#8000ff" stroke-width="0.8"/>
<path d="M1422.5 753.2 L1431.5 762.8 L1422.5 772.4 L1413.5 762.8 Z" fill="#fff" stroke="#8000ff" stroke-width="0.8"/>
<path d="M1449.5 744.7 L1458.5 754.3 L1449.5 763.9 L1440.5 754.3 Z" fill="#fff" stroke="#8000ff" stroke-width="0.8"/>
<path d="M1476.5 736.4 L1485.5 746 L1476.5 755.6 L1467.5 746 Z" fill="#fff" stroke="#8000ff" stroke-width="0.8"/>
<path d="M1503.4 728.6 L1512.4 738.2 L1503.4 747.8 L1494.4 738.2 Z" fill="#fff" stroke="#8000ff" stroke-width="0.8"/>
<path d="M1530.4 720.8 L1539.4 730.4 L1530.4 740 L1521.4 730.4 Z" fill="#fff" stroke="#8000ff" stroke-width="0.8"/>
<path d="M1557.4 711.9 L1566.4 721.5 L1557.4 731.1 L1548.4 721.5 Z" fill="#fff" stroke="#8000ff" stroke-width="0.8"/>
<path d="M1584.4 703.1 L1593.4 712.7 L1584.4 722.3 L1575.4 712.7 Z" fill="#fff" stroke="#8000ff" stroke-width="0.8"/>
<path d="M1611.4 693.6 L1620.4 703.2 L1611.4 712.8 L1602.4 703.2 Z" fill="#fff" stroke="#8000ff" stroke-width="0.8"/>
<path d="M1638.3 681 L1647.3 690.6 L1638.3 700.2 L1629.3 690.6 Z" fill="#fff" stroke="#8000ff" stroke-width="0.8"/>
<path d="M1665.3 667.3 L1674.3 676.9 L1665.3 686.5 L1656.3 676.9 Z" fill="#fff" stroke="#8000ff" stroke-width="0.8"/>
<path d="M1692.3 653.6 L1701.3 663.2 L1692.3 672.8 L1683.3 663.2 Z" fill="#fff" stroke="#8000ff" stroke-width="0.8"/>
<path d="M1719.3 636.3 L1728.3 645.9 L1719.3 655.5 L1710.3 645.9 Z" fill="#fff" stroke="#8000ff" stroke-width="0.8"/>
<path d="M1746.3 620.6 L1755.3 630.2 L1746.3 639.8 L1737.3 630.2 Z" fill="#fff" stroke="#8000ff" stroke-width="0.8"/>
<path d="M1773.2 604.3 L1782.2 613.9 L1773.2 623.5 L1764.2 613.9 Z" fill="#fff" stroke="#8000ff" stroke-width="0.8"/>
<path d="M1800.2 587.9 L1809.2 597.5 L1800.2 607.1 L1791.2 597.5 Z" fill="#fff" stroke="#8000ff" stroke-width="0.8"/>
<path d="M1827.2 573 L1836.2 582.6 L1827.2 592.2 L1818.2 582.6 Z" fill="#fff" stroke="#8000ff" stroke-width="0.8"/>
<path d="M1854.2 558.7 L1863.2 568.3 L1854.2 577.9 L1845.2 568.3 Z" fill="#fff" stroke="#8000ff" stroke-width="0.8"/>
<path d="M1881.2 545.6 L1890.2 555.2 L1881.2 564.8 L1872.2 555.2 Z" fill="#fff" stroke="#8000ff" stroke-width="0.8"/>
<path d="M1908.2 533.9 L1917.2 543.5 L1908.2 553.1 L1899.2 543.5 Z" fill="#fff" stroke="#8000ff" stroke-width="0.8"/>
<path d="M1935.1 523.4 L1944.1 533 L1935.1 542.6 L1926.1 533 Z" fill="#fff" stroke="#8000ff" stroke-width="0.8"/>
<path d="M1962.1 513.5 L1971.1 523.1 L1962.1 532.7 L1953.1 523.1 Z" fill="#fff" stroke="#8000ff" stroke-width="0.8"/>
<path d="M1989.1 503.9 L1998.1 513.5 L1989.1 523.1 L1980.1 513.5 Z" fill="#fff" stroke="#8000ff" stroke-width="0.8"/>
<path d="M2016.1 495.3 L2025.1 504.9 L2016.1 514.5 L2007.1 504.9 Z" fill="#fff" stroke="#8000ff" stroke-width="0.8"/>
<path d="M2043.1 487.1 L2052.1 496.7 L2043.1 506.3 L2034.1 496.7 Z" fill="#fff" stroke="#8000ff" stroke-width="0.8"/>
<path d="M2070 479.4 L2079 489 L2070 498.6 L2061 489 Z" fill="#fff" stroke="#8000ff" stroke-width="0.8"/>
<path d="M2097 473.1 L2106 482.7 L2097 492.3 L2088 482.7 Z" fill="#fff" stroke="#8000ff" stroke-width="0.8"/>
<path d="M2124 466.6 L2133 476.2 L2124 485.8 L2115 476.2 Z" fill="#fff" stroke="#8000ff" stroke-width="0.8"/>
</g>
<g>
<path d="M649.3 1637.3 L673 1595.2 L698.6 1562.8 L721.3 1531.7 L747 1501.2 L771.4 1471.9 L795.8 1443.4 L821.4 1415.3 L846.6 1386 L870.2 1357.7 L895.9 1326.7 L919.8 1296.6 L944.6 1260.2 L967.7 1221.3 L990.4 1182.2 L1015 1142.6 L1037.8 1100.8 L1062.4 1063.2 L1085.6 1030.4 L1111.2 1003.5 L1136.8 981 L1162.5 963.2 L1189.6 947.3 L1216.5 933.7 L1244 922.4 L1270.2 912.8 L1298.5 904.3 L1325.3 896.9 L1351.5 889.9 L1380.5 883.1 L1408.1 876.5 L1435.8 870 L1463.4 863.4 L1489.5 856.5 L1518.6 849.2 L1546.2 842 L1572.4 834 L1601.5 824.5 L1627.6 813.3 L1655.2 799.4 L1680.3 783.8 L1708.3 768.2 L1734.5 752.4 L1759.2 736 L1786.8 719.4 L1814.4 703.7 L1840.6 690.3 L1866.7 677.9 L1894.4 665.9 L1920.5 655 L1948.1 644.8 L1974.3 635 L2003.4 625.9 L2029.5 617.6 L2057.1 609.9 L2084.8 602.9 L2113.8 596.6 L2137.1 591" fill="none" stroke="#ff0000" stroke-width="4.9" stroke-linejoin="round"/>
<rect x="642.7" y="1630.7" width="13.2" height="13.2" fill="#ff0000"/>
<rect x="666.4" y="1588.6" width="13.2" height="13.2" fill="#ff0000"/>
<rect x="692" y="1556.2" width="13.2" height="13.2" fill="#ff0000"/>
<rect x="714.7" y="1525.1" width="13.2" height="13.2" fill="#ff0000"/>
<rect x="740.4" y="1494.6" width="13.2" height="13.2" fill="#ff0000"/>
<rect x="764.8" y="1465.3" width="13.2" height="13.2" fill="#ff0000"/>
<rect x="789.2" y="1436.8" width="13.2" height="13.2" fill="#ff0000"/>
<rect x="814.8" y="1408.7" width="13.2" height="13.2" fill="#ff0000"/>
<rect x="840" y="1379.4" width="13.2" height="13.2" fill="#ff0000"/>
<rect x="863.6" y="1351.1" width="13.2" height="13.2" fill="#ff0000"/>
<rect x="889.3" y="1320.1" width="13.2" height="13.2" fill="#ff0000"/>
<rect x="913.2" y="1290" width="13.2" height="13.2" fill="#ff0000"/>
<rect x="938" y="1253.6" width="13.2" height="13.2" fill="#ff0000"/>
<rect x="961.1" y="1214.7" width="13.2" height="13.2" fill="#ff0000"/>
<rect x="983.8" y="1175.6" width="13.2" height="13.2" fill="#ff0000"/>
<rect x="1008.4" y="1136" width="13.2" height="13.2" fill="#ff0000"/>
<rect x="1031.2" y="1094.2" width="13.2" height="13.2" fill="#ff0000"/>
<rect x="1055.8" y="1056.6" width="13.2" height="13.2" fill="#ff0000"/>
<rect x="1079" y="1023.8" width="13.2" height="13.2" fill="#ff0000"/>
<rect x="1104.6" y="996.9" width="13.2" height="13.2" fill="#ff0000"/>
<rect x="1130.2" y="974.4" width="13.2" height="13.2" fill="#ff0000"/>
<rect x="1155.9" y="956.6" width="13.2" height="13.2" fill="#ff0000"/>
<rect x="1183" y="940.7" width="13.2" height="13.2" fill="#ff0000"/>
<rect x="1209.9" y="927.1" width="13.2" height="13.2" fill="#ff0000"/>
<rect x="1237.4" y="915.8" width="13.2" height="13.2" fill="#ff0000"/>
<rect x="1263.6" y="906.2" width="13.2" height="13.2" fill="#ff0000"/>
<rect x="1291.9" y="897.7" width="13.2" height="13.2" fill="#ff0000"/>
<rect x="1318.7" y="890.3" width="13.2" height="13.2" fill="#ff0000"/>
<rect x="1344.9" y="883.3" width="13.2" height="13.2" fill="#ff0000"/>
<rect x="1373.9" y="876.5" width="13.2" height="13.2" fill="#ff0000"/>
<rect x="1401.5" y="869.9" width="13.2" height="13.2" fill="#ff0000"/>
<rect x="1429.2" y="863.4" width="13.2" height="13.2" fill="#ff0000"/>
<rect x="1456.8" y="856.8" width="13.2" height="13.2" fill="#ff0000"/>
<rect x="1482.9" y="849.9" width="13.2" height="13.2" fill="#ff0000"/>
<rect x="1512" y="842.6" width="13.2" height="13.2" fill="#ff0000"/>
<rect x="1539.6" y="835.4" width="13.2" height="13.2" fill="#ff0000"/>
<rect x="1565.8" y="827.4" width="13.2" height="13.2" fill="#ff0000"/>
<rect x="1594.9" y="817.9" width="13.2" height="13.2" fill="#ff0000"/>
<rect x="1621" y="806.7" width="13.2" height="13.2" fill="#ff0000"/>
<rect x="1648.6" y="792.8" width="13.2" height="13.2" fill="#ff0000"/>
<rect x="1673.7" y="777.2" width="13.2" height="13.2" fill="#ff0000"/>
<rect x="1701.7" y="761.6" width="13.2" height="13.2" fill="#ff0000"/>
<rect x="1727.9" y="745.8" width="13.2" height="13.2" fill="#ff0000"/>
<rect x="1752.6" y="729.4" width="13.2" height="13.2" fill="#ff0000"/>
<rect x="1780.2" y="712.8" width="13.2" height="13.2" fill="#ff0000"/>
<rect x="1807.8" y="697.1" width="13.2" height="13.2" fill="#ff0000"/>
<rect x="1834" y="683.7" width="13.2" height="13.2" fill="#ff0000"/>
<rect x="1860.1" y="671.3" width="13.2" height="13.2" fill="#ff0000"/>
<rect x="1887.8" y="659.3" width="13.2" height="13.2" fill="#ff0000"/>
<rect x="1913.9" y="648.4" width="13.2" height="13.2" fill="#ff0000"/>
<rect x="1941.5" y="638.2" width="13.2" height="13.2" fill="#ff0000"/>
<rect x="1967.7" y="628.4" width="13.2" height="13.2" fill="#ff0000"/>
<rect x="1996.8" y="619.3" width="13.2" height="13.2" fill="#ff0000"/>
<rect x="2022.9" y="611" width="13.2" height="13.2" fill="#ff0000"/>
<rect x="2050.5" y="603.3" width="13.2" height="13.2" fill="#ff0000"/>
<rect x="2078.2" y="596.3" width="13.2" height="13.2" fill="#ff0000"/>
<rect x="2107.2" y="590" width="13.2" height="13.2" fill="#ff0000"/>
<rect x="2130.5" y="584.4" width="13.2" height="13.2" fill="#ff0000"/>
</g>
<g>
<path d="M678 1639.5 L703 1614.2 L728 1590.5 L753.7 1567.8 L779.7 1546.2 L805.9 1525 L831.9 1502.8 L857.5 1480.4 L881.2 1458.9 L904.9 1435.7 L931.8 1407.9 L958.7 1377.4 L983.6 1346.6 L1006.6 1317.7 L1031.6 1282.3 L1056.5 1248.6 L1079.5 1216.8 L1101.5 1189.2 L1126 1163.4 L1153.4 1143.7 L1180.7 1127.3 L1208.1 1112.1 L1235.4 1100 L1262.8 1090.5 L1290.1 1082 L1317.5 1074.1 L1344.8 1067.7 L1372.2 1061.5 L1399.5 1055 L1426.9 1048 L1454.2 1040.2 L1481.6 1031.5 L1508.9 1021.7 L1536.3 1010.4 L1563.6 996.7 L1591 982.3 L1618.3 966.8 L1645.7 950.4 L1673.1 935.7 L1700.4 921.6 L1727.8 907.9 L1755.1 895.5 L1782.5 884.7 L1809.8 875.1 L1837.2 866 L1864.5 857.1 L1891.9 848.8 L1919.2 841.6 L1946.6 834.8 L1973.9 828.2 L2001.3 821.8 L2028.6 816.3 L2056 811 L2083.3 805.8 L2110.7 800.9 L2138 796.6 L2165.4 791.2" fill="none" stroke="#800000" stroke-width="5.0" stroke-linejoin="round"/>
<ellipse cx="678" cy="1639.5" rx="7.0" ry="7.2" fill="#fff" stroke="#800000" stroke-width="0.6"/>
<ellipse cx="703" cy="1614.2" rx="7.0" ry="7.2" fill="#fff" stroke="#800000" stroke-width="0.6"/>
<ellipse cx="728" cy="1590.5" rx="7.0" ry="7.2" fill="#fff" stroke="#800000" stroke-width="0.6"/>
<ellipse cx="753.7" cy="1567.8" rx="7.0" ry="7.2" fill="#fff" stroke="#800000" stroke-width="0.6"/>
<ellipse cx="779.7" cy="1546.2" rx="7.0" ry="7.2" fill="#fff" stroke="#800000" stroke-width="0.6"/>
<ellipse cx="805.9" cy="1525" rx="7.0" ry="7.2" fill="#fff" stroke="#800000" stroke-width="0.6"/>
<ellipse cx="831.9" cy="1502.8" rx="7.0" ry="7.2" fill="#fff" stroke="#800000" stroke-width="0.6"/>
<ellipse cx="857.5" cy="1480.4" rx="7.0" ry="7.2" fill="#fff" stroke="#800000" stroke-width="0.6"/>
<ellipse cx="881.2" cy="1458.9" rx="7.0" ry="7.2" fill="#fff" stroke="#800000" stroke-width="0.6"/>
<ellipse cx="904.9" cy="1435.7" rx="7.0" ry="7.2" fill="#fff" stroke="#800000" stroke-width="0.6"/>
<ellipse cx="931.8" cy="1407.9" rx="7.0" ry="7.2" fill="#fff" stroke="#800000" stroke-width="0.6"/>
<ellipse cx="958.7" cy="1377.4" rx="7.0" ry="7.2" fill="#fff" stroke="#800000" stroke-width="0.6"/>
<ellipse cx="983.6" cy="1346.6" rx="7.0" ry="7.2" fill="#fff" stroke="#800000" stroke-width="0.6"/>
<ellipse cx="1006.6" cy="1317.7" rx="7.0" ry="7.2" fill="#fff" stroke="#800000" stroke-width="0.6"/>
<ellipse cx="1031.6" cy="1282.3" rx="7.0" ry="7.2" fill="#fff" stroke="#800000" stroke-width="0.6"/>
<ellipse cx="1056.5" cy="1248.6" rx="7.0" ry="7.2" fill="#fff" stroke="#800000" stroke-width="0.6"/>
<ellipse cx="1079.5" cy="1216.8" rx="7.0" ry="7.2" fill="#fff" stroke="#800000" stroke-width="0.6"/>
<ellipse cx="1101.5" cy="1189.2" rx="7.0" ry="7.2" fill="#fff" stroke="#800000" stroke-width="0.6"/>
<ellipse cx="1126" cy="1163.4" rx="7.0" ry="7.2" fill="#fff" stroke="#800000" stroke-width="0.6"/>
<ellipse cx="1153.4" cy="1143.7" rx="7.0" ry="7.2" fill="#fff" stroke="#800000" stroke-width="0.6"/>
<ellipse cx="1180.7" cy="1127.3" rx="7.0" ry="7.2" fill="#fff" stroke="#800000" stroke-width="0.6"/>
<ellipse cx="1208.1" cy="1112.1" rx="7.0" ry="7.2" fill="#fff" stroke="#800000" stroke-width="0.6"/>
<ellipse cx="1235.4" cy="1100" rx="7.0" ry="7.2" fill="#fff" stroke="#800000" stroke-width="0.6"/>
<ellipse cx="1262.8" cy="1090.5" rx="7.0" ry="7.2" fill="#fff" stroke="#800000" stroke-width="0.6"/>
<ellipse cx="1290.1" cy="1082" rx="7.0" ry="7.2" fill="#fff" stroke="#800000" stroke-width="0.6"/>
<ellipse cx="1317.5" cy="1074.1" rx="7.0" ry="7.2" fill="#fff" stroke="#800000" stroke-width="0.6"/>
<ellipse cx="1344.8" cy="1067.7" rx="7.0" ry="7.2" fill="#fff" stroke="#800000" stroke-width="0.6"/>
<ellipse cx="1372.2" cy="1061.5" rx="7.0" ry="7.2" fill="#fff" stroke="#800000" stroke-width="0.6"/>
<ellipse cx="1399.5" cy="1055" rx="7.0" ry="7.2" fill="#fff" stroke="#800000" stroke-width="0.6"/>
<ellipse cx="1426.9" cy="1048" rx="7.0" ry="7.2" fill="#fff" stroke="#800000" stroke-width="0.6"/>
<ellipse cx="1454.2" cy="1040.2" rx="7.0" ry="7.2" fill="#fff" stroke="#800000" stroke-width="0.6"/>
<ellipse cx="1481.6" cy="1031.5" rx="7.0" ry="7.2" fill="#fff" stroke="#800000" stroke-width="0.6"/>
<ellipse cx="1508.9" cy="1021.7" rx="7.0" ry="7.2" fill="#fff" stroke="#800000" stroke-width="0.6"/>
<ellipse cx="1536.3" cy="1010.4" rx="7.0" ry="7.2" fill="#fff" stroke="#800000" stroke-width="0.6"/>
<ellipse cx="1563.6" cy="996.7" rx="7.0" ry="7.2" fill="#fff" stroke="#800000" stroke-width="0.6"/>
<ellipse cx="1591" cy="982.3" rx="7.0" ry="7.2" fill="#fff" stroke="#800000" stroke-width="0.6"/>
<ellipse cx="1618.3" cy="966.8" rx="7.0" ry="7.2" fill="#fff" stroke="#800000" stroke-width="0.6"/>
<ellipse cx="1645.7" cy="950.4" rx="7.0" ry="7.2" fill="#fff" stroke="#800000" stroke-width="0.6"/>
<ellipse cx="1673.1" cy="935.7" rx="7.0" ry="7.2" fill="#fff" stroke="#800000" stroke-width="0.6"/>
<ellipse cx="1700.4" cy="921.6" rx="7.0" ry="7.2" fill="#fff" stroke="#800000" stroke-width="0.6"/>
<ellipse cx="1727.8" cy="907.9" rx="7.0" ry="7.2" fill="#fff" stroke="#800000" stroke-width="0.6"/>
<ellipse cx="1755.1" cy="895.5" rx="7.0" ry="7.2" fill="#fff" stroke="#800000" stroke-width="0.6"/>
<ellipse cx="1782.5" cy="884.7" rx="7.0" ry="7.2" fill="#fff" stroke="#800000" stroke-width="0.6"/>
<ellipse cx="1809.8" cy="875.1" rx="7.0" ry="7.2" fill="#fff" stroke="#800000" stroke-width="0.6"/>
<ellipse cx="1837.2" cy="866" rx="7.0" ry="7.2" fill="#fff" stroke="#800000" stroke-width="0.6"/>
<ellipse cx="1864.5" cy="857.1" rx="7.0" ry="7.2" fill="#fff" stroke="#800000" stroke-width="0.6"/>
<ellipse cx="1891.9" cy="848.8" rx="7.0" ry="7.2" fill="#fff" stroke="#800000" stroke-width="0.6"/>
<ellipse cx="1919.2" cy="841.6" rx="7.0" ry="7.2" fill="#fff" stroke="#800000" stroke-width="0.6"/>
<ellipse cx="1946.6" cy="834.8" rx="7.0" ry="7.2" fill="#fff" stroke="#800000" stroke-width="0.6"/>
<ellipse cx="1973.9" cy="828.2" rx="7.0" ry="7.2" fill="#fff" stroke="#800000" stroke-width="0.6"/>
<ellipse cx="2001.3" cy="821.8" rx="7.0" ry="7.2" fill="#fff" stroke="#800000" stroke-width="0.6"/>
<ellipse cx="2028.6" cy="816.3" rx="7.0" ry="7.2" fill="#fff" stroke="#800000" stroke-width="0.6"/>
<ellipse cx="2056" cy="811" rx="7.0" ry="7.2" fill="#fff" stroke="#800000" stroke-width="0.6"/>
<ellipse cx="2083.3" cy="805.8" rx="7.0" ry="7.2" fill="#fff" stroke="#800000" stroke-width="0.6"/>
<ellipse cx="2110.7" cy="800.9" rx="7.0" ry="7.2" fill="#fff" stroke="#800000" stroke-width="0.6"/>
<ellipse cx="2138" cy="796.6" rx="7.0" ry="7.2" fill="#fff" stroke="#800000" stroke-width="0.6"/>
<ellipse cx="2165.4" cy="791.2" rx="7.0" ry="7.2" fill="#fff" stroke="#800000" stroke-width="0.6"/>
</g>
</g>
<rect x="365.4" y="155.5" width="1902.3" height="1481.8" fill="none" stroke="#000" stroke-width="7.4"/>
<path d="M333 1637.3 H365.4 M347.5 1513.8 H365.4 M333 1390.3 H365.4 M347.5 1266.8 H365.4 M333 1143.4 H365.4 M347.5 1019.9 H365.4 M333 896.4 H365.4 M347.5 772.9 H365.4 M333 649.4 H365.4 M347.5 526 H365.4 M333 402.5 H365.4 M347.5 279 H365.4 M333 155.5 H365.4 M365.4 1637.3 V1666.5 M555.6 1637.3 V1652.5 M745.9 1637.3 V1666.5 M936.1 1637.3 V1652.5 M1126.3 1637.3 V1666.5 M1316.5 1637.3 V1652.5 M1506.8 1637.3 V1666.5 M1697 1637.3 V1652.5 M1887.2 1637.3 V1666.5 M2077.5 1637.3 V1652.5 M2267.7 1637.3 V1666.5" stroke="#000" stroke-width="7.4" fill="none"/>
<g font-family="'Liberation Sans', Arial, sans-serif" font-size="61" fill="#000">
<text x="317" y="1652.8" text-anchor="end">0</text>
<text x="317" y="1405.8" text-anchor="end">20</text>
<text x="317" y="1158.9" text-anchor="end">40</text>
<text x="317" y="911.9" text-anchor="end">60</text>
<text x="317" y="664.9" text-anchor="end">80</text>
<text x="317" y="418" text-anchor="end">100</text>
<text x="317" y="171" text-anchor="end">120</text>
<text x="364.4" y="1730.2" text-anchor="middle">-2</text>
<text x="744.9" y="1730.2" text-anchor="middle">-1</text>
<text x="1126.3" y="1730.2" text-anchor="middle">0</text>
<text x="1506.8" y="1730.2" text-anchor="middle">1</text>
<text x="1887.2" y="1730.2" text-anchor="middle">2</text>
<text x="2267.7" y="1730.2" text-anchor="middle">3</text>
</g>
<g font-family="'Liberation Sans', Arial, sans-serif" font-size="60.6" letter-spacing="0.4" fill="#000">
<line x1="446.5" y1="285.2" x2="615.5" y2="285.2" stroke="#ff8000" stroke-width="5.3"/>
<ellipse cx="531" cy="286" rx="7.7" ry="8.5" fill="#ff8000"/><circle cx="529.4" cy="282.8" r="2.2" fill="#ffc890"/>
<text x="634.6" y="310.1" xml:space="preserve">300 K</text>
<line x1="446.5" y1="374.4" x2="615.5" y2="374.4" stroke="#0000ff" stroke-width="5.3"/>
<path d="M531 363.9 L541.2 381 L520.8 381 Z" fill="#fff" stroke="#0000ff" stroke-width="1.5"/>
<text x="629.6" y="400.7" xml:space="preserve">250 K</text>
<line x1="446.5" y1="466.6" x2="615.5" y2="466.6" stroke="#008000" stroke-width="5.3"/>
<ellipse cx="531" cy="466.6" rx="8.3" ry="8.6" fill="#008000"/>
<text x="628.4" y="492.3" xml:space="preserve"> 200 K</text>
<line x1="446.5" y1="556.5" x2="615.5" y2="556.5" stroke="#8000ff" stroke-width="5.2"/>
<path d="M531 546.1 L539.8 556.5 L531 566.9 L522.2 556.5 Z" fill="#fff" stroke="#8000ff" stroke-width="1.6"/>
<text x="634.6" y="581.8" xml:space="preserve">150 K</text>
<line x1="446.5" y1="646.1" x2="615.5" y2="646.1" stroke="#ff0000" stroke-width="5.3"/>
<rect x="523.4" y="638.5" width="15.2" height="15.2" fill="#ff0000"/>
<text x="634.6" y="671.4" xml:space="preserve">100 K</text>
<line x1="446.5" y1="737.3" x2="615.5" y2="737.3" stroke="#800000" stroke-width="7.8"/>
<ellipse cx="531" cy="737.3" rx="7.6" ry="8.6" fill="#fff" stroke="#800000" stroke-width="2"/>
<text x="630.4" y="763" xml:space="preserve">50 K</text>
</g>
<text x="1314" y="1837" text-anchor="middle" font-family="'Liberation Sans', Arial, sans-serif" font-weight="bold" font-size="79" fill="#000">Magnetic field <tspan font-family="'Liberation Serif', 'DejaVu Serif', serif" font-weight="normal" font-size="74">μ</tspan><tspan font-size="49" dy="31">0</tspan><tspan dy="-31">H (T)</tspan></text>
<text transform="translate(190 1302) rotate(-90)" font-family="'Liberation Sans', Arial, sans-serif" font-weight="bold" font-size="71.5" letter-spacing="1.2" fill="#000">Magnetization (Am<tspan font-size="46" dy="-39">2</tspan><tspan dy="39">kg</tspan><tspan font-size="42" dy="-39" font-weight="normal">−</tspan><tspan font-size="46">1</tspan><tspan dy="39">)</tspan></text>
</svg>
</body></html>
